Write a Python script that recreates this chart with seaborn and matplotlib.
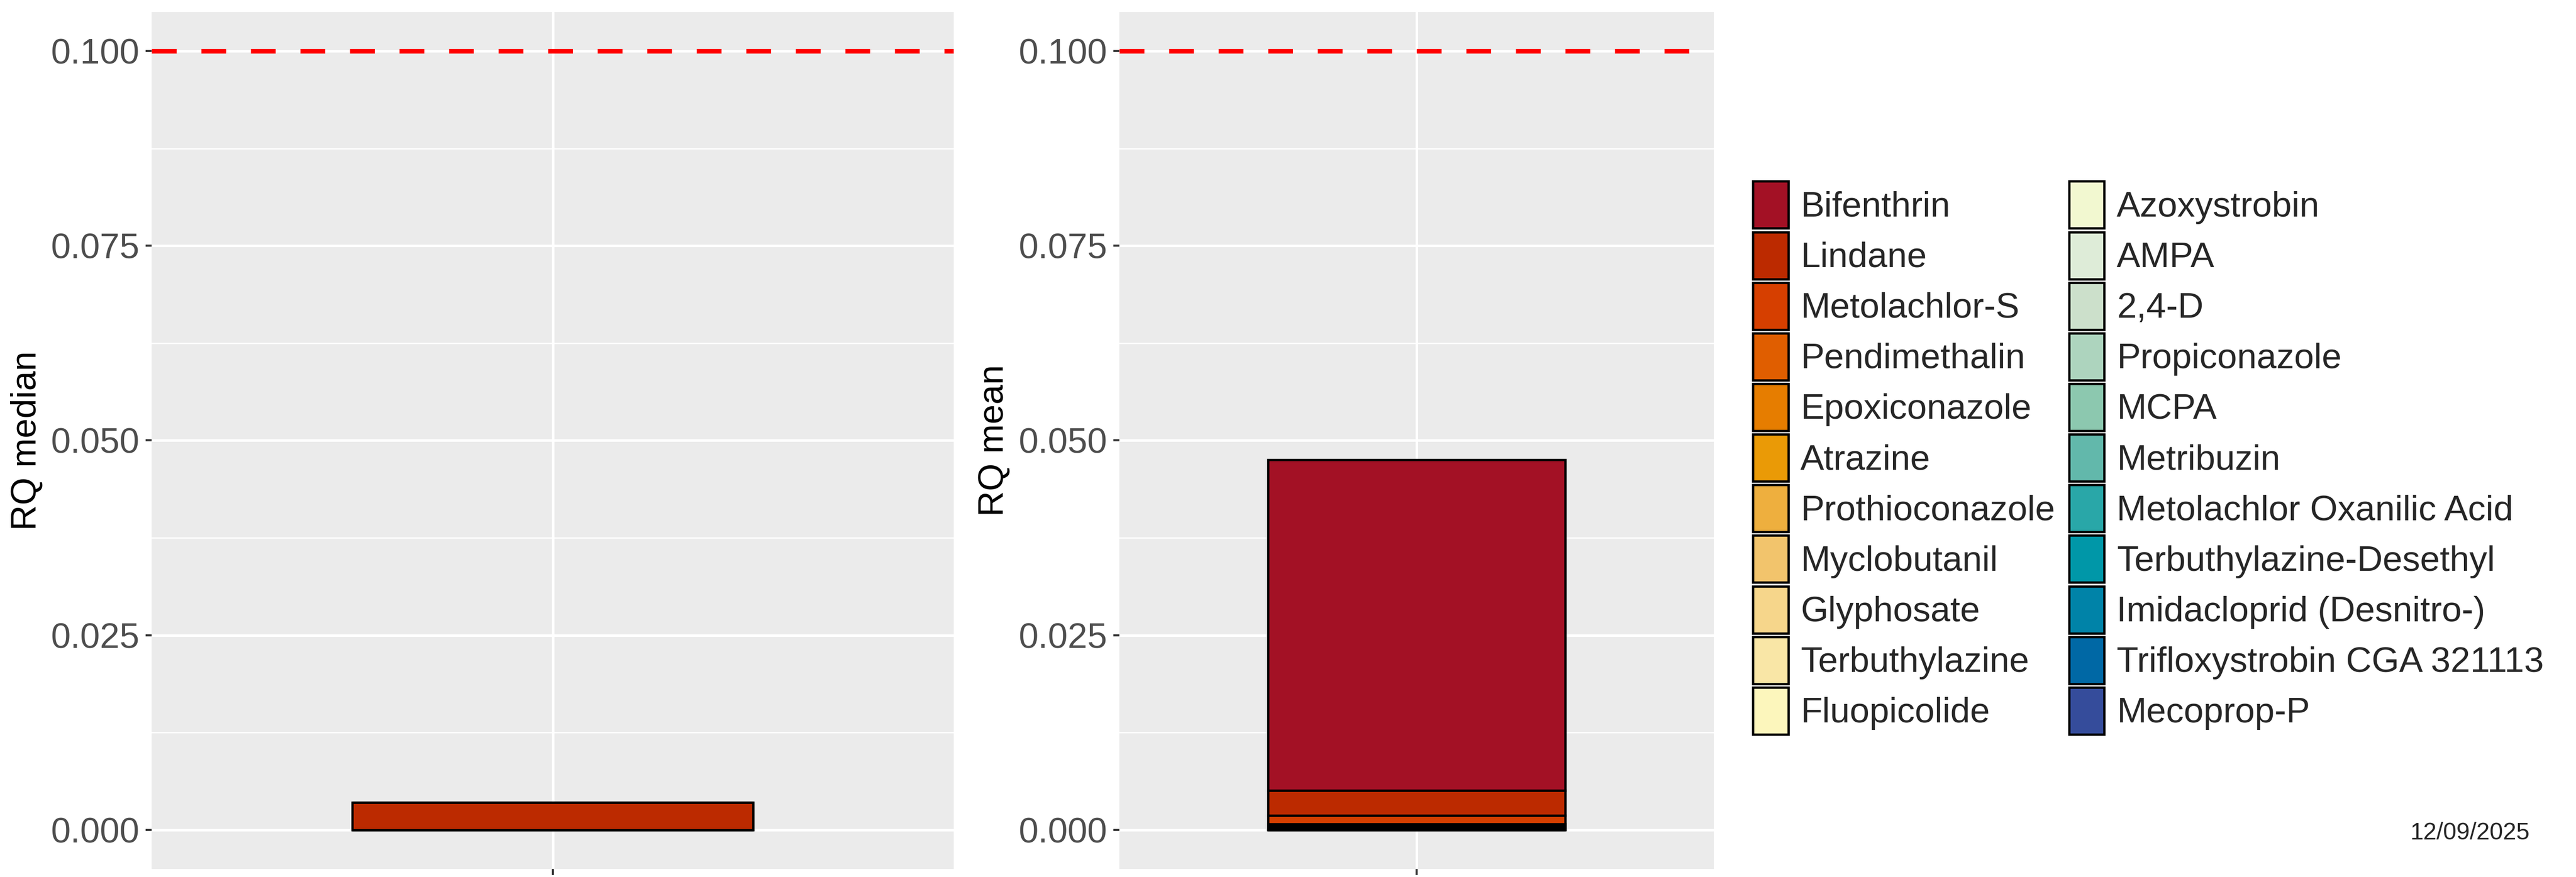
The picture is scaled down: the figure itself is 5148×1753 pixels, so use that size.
import pandas as pd
import matplotlib.pyplot as plt
import seaborn as sns
from matplotlib.patches import Patch
from matplotlib.ticker import FixedLocator, MultipleLocator, FormatStrFormatter

# dados: RQ por composto (mediana e media), ordem da pilha = ordem da legenda
compounds = ['Bifenthrin', 'Lindane', 'Metolachlor-S', 'Pendimethalin', 'Epoxiconazole',
             'Atrazine', 'Prothioconazole', 'Myclobutanil', 'Glyphosate', 'Terbuthylazine',
             'Fluopicolide', 'Azoxystrobin', 'AMPA', '2,4-D', 'Propiconazole', 'MCPA',
             'Metribuzin', 'Metolachlor Oxanilic Acid', 'Terbuthylazine-Desethyl',
             'Imidacloprid (Desnitro-)', 'Trifloxystrobin CGA 321113', 'Mecoprop-P']
rq_median = [0.0, 0.00354, 0.0, 0.0, 0.0, 0.0, 0.0, 0.0, 0.0, 0.0, 0.0,
             0.0, 0.0, 0.0, 0.0, 0.0, 0.0, 0.0, 0.0, 0.0, 0.0, 0.0]
rq_mean = [0.04247, 0.00323, 0.00104, 0.00020, 0.00012, 0.00010, 0.00008, 0.00006,
           0.00005, 0.00004, 0.00003, 0.00003, 0.00002, 0.00002, 0.00001, 0.00001,
           0.00001, 0.000005, 0.000005, 0.000005, 0.000005, 0.000005]
colors = ['#A31125', '#BC2A00', '#D63F00', '#E05E00', '#E67D00', '#EA9A06', '#EEAF3E',
          '#F2C46C', '#F6D68B', '#F9E6A6', '#FCF6BC', '#F2F8D0', '#DEECD8', '#CCE0CB',
          '#ADD4BE', '#8CC8AF', '#62B8AB', '#29A7A8', '#0097A8', '#0083A8', '#0068A5',
          '#354C9B']
threshold = 0.1
y_ticks = [0.0, 0.025, 0.05, 0.075, 0.1]
date_label = '12/09/2025'

palette = dict(zip(compounds, colors))

sns.set_theme(style='darkgrid', rc={'axes.facecolor': '#EBEBEB', 'grid.color': 'white',
                                    'axes.axisbelow': True})
plt.rcParams['font.family'] = ['Liberation Sans', 'DejaVu Sans']

W, H = 5148, 1753
fig = plt.figure(figsize=(W / 300, H / 300), dpi=300)
ax_med = fig.add_axes([303 / W, (H - 1737) / H, 1603 / W, 1713 / H])
ax_mean = fig.add_axes([2237 / W, (H - 1737) / H, 1188 / W, 1713 / H])


def painel(ax, valores, titulo):
    df = pd.DataFrame({'grupo': 'all', 'compound': compounds, 'rq': valores})
    sns.histplot(data=df, x='grupo', weights='rq', hue='compound', hue_order=compounds,
                 palette=palette, multiple='stack', discrete=True, shrink=0.6, alpha=1,
                 edgecolor='black', linewidth=1.1, legend=False, ax=ax)
    ax.axhline(threshold, color='red', lw=2.2, linestyle=(0, (5.4, 5.4)), zorder=5)
    ax.set_xlim(-0.6, 0.6)
    ax.set_ylim(-0.005, 0.105)
    ax.xaxis.set_major_locator(FixedLocator([0]))
    ax.set_xticklabels([''])
    ax.yaxis.set_major_locator(FixedLocator(y_ticks))
    ax.yaxis.set_minor_locator(MultipleLocator(0.0125))
    ax.yaxis.set_major_formatter(FormatStrFormatter('%.3f'))
    ax.grid(which='major', color='white', linewidth=1.2)
    ax.grid(which='minor', axis='y', color='white', linewidth=0.6)
    ax.tick_params(which='major', length=2.9, width=1.0, color='#333333',
                   labelsize=17, labelcolor='#4D4D4D', pad=3, left=True, bottom=True)
    ax.tick_params(which='minor', length=0)
    for s in ax.spines.values():
        s.set_visible(False)
    ax.set_xlabel('')
    ax.set_ylabel(titulo, fontsize=17, color='black', labelpad=3.5)


painel(ax_med, rq_median, 'RQ median')
painel(ax_mean, rq_mean, 'RQ mean')

# legenda em duas colunas (chaves altas como no ggplot)
handles = [Patch(facecolor=palette[c], edgecolor='black', linewidth=1.1) for c in compounds]
fig.legend(handles, compounds, ncol=2, loc='upper left',
           bbox_to_anchor=(3503.4 / W, 1 - 362.4 / H), frameon=False, borderpad=0,
           borderaxespad=0, fontsize=17, handlelength=0.99, handleheight=1.666,
           labelspacing=0.1, handletextpad=0.35, columnspacing=0.4)

fig.text(5055 / W, 1 - 1665 / H, date_label, ha='right', va='center', fontsize=11.5)

fig.savefig('out.png', dpi=300)
plt.close()
